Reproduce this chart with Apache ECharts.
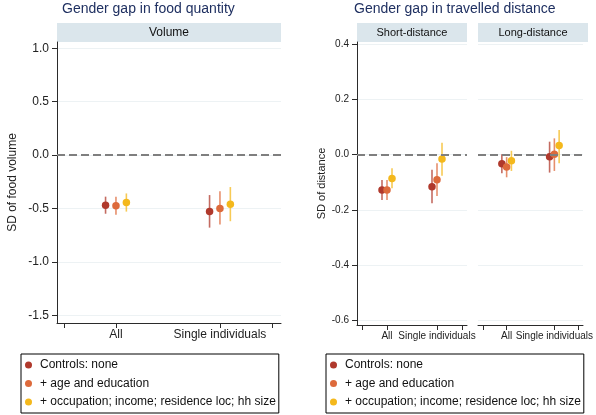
<!DOCTYPE html>
<html>
<head>
<meta charset="utf-8">
<script src="https://cdn.jsdelivr.net/npm/echarts@6/dist/echarts.min.js"></script>
<style>
  html, body { margin: 0; padding: 0; background: #fff; }
  #chart { width: 596px; height: 415px; }
</style>
</head>
<body>
<div id="chart"></div>
<script>
// Sample groups and the three model specifications
const groups = ['All', 'Single individuals'];
const groupPos = [1, 2];
const models = ['Controls: none', '+ age and education', '+ occupation; income; residence loc; hh size'];
const modelColors = ['#b0392c', '#dd6a3b', '#f4b81c'];
const dodge = [-0.1, 0, 0.1];

// Gender gap in food volume (SD): estimate, lower and upper CI, per model x group
const volumeEst = [[-0.47, -0.53], [-0.475, -0.50], [-0.445, -0.46]];
const volumeLo  = [[-0.55, -0.68], [-0.56, -0.65], [-0.53, -0.62]];
const volumeHi  = [[-0.39, -0.375], [-0.39, -0.34], [-0.36, -0.30]];

// Gender gap in short-distance travel (SD)
const shortEst = [[-0.128, -0.116], [-0.128, -0.091], [-0.086, -0.016]];
const shortLo  = [[-0.164, -0.176], [-0.164, -0.150], [-0.122, -0.076]];
const shortHi  = [[-0.092, -0.055], [-0.092, -0.031], [-0.049, 0.043]];

// Gender gap in long-distance travel (SD)
const longEst = [[-0.033, -0.008], [-0.045, 0.001], [-0.022, 0.033]];
const longLo  = [[-0.067, -0.065], [-0.082, -0.059], [-0.059, -0.031]];
const longHi  = [[0.001, 0.047], [-0.009, 0.059], [0.014, 0.089]];

// Axis tick values
const volumeTicks = [-1.5, -1.0, -0.5, 0.0, 0.5, 1.0];
const distanceTicks = [-0.6, -0.4, -0.2, 0.0, 0.2, 0.4];
const xTicks = [0.5, 1, 2, 2.5];

const axisColor = '#2b2b2b';
const gridColor = '#edf2f4';
const fontFamily = 'Liberation Sans, Arial, sans-serif';

function xAxisFor(gridIndex, min, max, fontSize) {
  return {
    type: 'value', gridIndex, min, max,
    axisLine: { show: true, onZero: false, lineStyle: { color: axisColor, width: 1 } },
    axisTick: { show: true, length: 5, customValues: xTicks, lineStyle: { color: axisColor } },
    axisLabel: {
      customValues: groupPos, fontSize, color: '#222', fontFamily, margin: 6,
      formatter: v => groups[groupPos.indexOf(v)] || ''
    },
    splitLine: { show: false }
  };
}

function yAxisFor(gridIndex, min, max, ticks, fontSize, name, nameSize, nameGap, showAxis) {
  return {
    type: 'value', gridIndex, min, max,
    name: showAxis ? name : '', nameLocation: 'middle', nameGap, nameRotate: 90,
    nameTextStyle: { fontSize: nameSize, color: '#222', fontFamily },
    axisLine: { show: showAxis, lineStyle: { color: axisColor, width: 1 } },
    axisTick: { show: showAxis, length: 5, customValues: ticks, lineStyle: { color: axisColor } },
    axisLabel: {
      show: showAxis, customValues: ticks, fontSize, color: '#222', fontFamily, margin: 8,
      formatter: v => v.toFixed(1)
    },
    splitLine: { show: true, lineStyle: { color: gridColor, width: 1 } }
  };
}

function errorBarItem(params, api) {
  const top = api.coord([api.value(0), api.value(2)]);
  const bottom = api.coord([api.value(0), api.value(1)]);
  return {
    type: 'line',
    shape: { x1: top[0], y1: top[1], x2: bottom[0], y2: bottom[1] },
    style: { stroke: api.visual('color'), lineWidth: 1.6, opacity: 0.75 }
  };
}

const zeroLine = {
  silent: true, symbol: 'none', label: { show: false },
  lineStyle: { type: [8, 4], color: '#7f7f7f', width: 2 },
  data: [{ yAxis: 0 }]
};

const series = [];
function addPanel(axisIndex, est, lo, hi) {
  models.forEach((m, k) => {
    const bars = groupPos.map((g, j) => [g + dodge[k], lo[k][j], hi[k][j]]);
    const pts = groupPos.map((g, j) => [g + dodge[k], est[k][j]]);
    const bar = {
      type: 'custom', name: m, xAxisIndex: axisIndex, yAxisIndex: axisIndex,
      renderItem: errorBarItem, data: bars, itemStyle: { color: modelColors[k] },
      encode: { x: 0, y: [1, 2] }, z: 2, silent: true
    };
    if (k === 0) bar.markLine = zeroLine;
    series.push(bar);
    series.push({
      type: 'scatter', name: m, xAxisIndex: axisIndex, yAxisIndex: axisIndex,
      data: pts, symbol: 'circle', symbolSize: 7.5, z: 3,
      itemStyle: { color: modelColors[k], opacity: 1 }
    });
  });
}
addPanel(0, volumeEst, volumeLo, volumeHi);
addPanel(1, shortEst, shortLo, shortHi);
addPanel(2, longEst, longLo, longHi);

function legendAt(left) {
  return {
    left, top: 354, orient: 'vertical', data: models,
    icon: 'circle', itemWidth: 7, itemHeight: 7, itemGap: 4.5,
    borderColor: '#000', borderWidth: 1, padding: [4, 3, 4, 4],
    textStyle: { fontSize: 12, color: '#111', fontFamily, lineHeight: 14, padding: [0, 0, 0, 3] },
    selectedMode: false
  };
}

const stripStyle = { fill: '#dbe6ec' };
function strip(x, w, label, fontSize) {
  return [
    { type: 'rect', shape: { x, y: 23, width: w, height: 19 }, style: stripStyle, silent: true },
    { type: 'text', x: x + w / 2, y: 32.5,
      style: { text: label, fontSize, fill: '#111', fontFamily, align: 'center', verticalAlign: 'middle' } }
  ];
}

const option = {
  animation: false,
  backgroundColor: '#fff',
  title: [
    { text: 'Gender gap in food quantity', left: 62, top: 2, padding: 0,
      textStyle: { fontSize: 14, fontWeight: 'normal', color: '#1f3061', fontFamily } },
    { text: 'Gender gap in travelled distance', left: 354, top: 2, padding: 0,
      textStyle: { fontSize: 14, fontWeight: 'normal', color: '#1f3061', fontFamily } }
  ],
  grid: [
    { left: 57, width: 224, top: 42, height: 281 },
    { left: 357, width: 110, top: 42, height: 283 },
    { left: 478, width: 110, top: 42, height: 283 }
  ],
  xAxis: [
    xAxisFor(0, 0.433, 2.587, 12),
    xAxisFor(1, 0.4, 2.6, 10),
    xAxisFor(2, 0.4, 2.6, 10)
  ],
  yAxis: [
    yAxisFor(0, -1.573, 1.058, volumeTicks, 12, 'SD of food volume', 12, 38, true),
    yAxisFor(1, -0.617, 0.408, distanceTicks, 10, 'SD of distance', 11, 29, true),
    yAxisFor(2, -0.617, 0.408, distanceTicks, 10, '', 11, 29, false)
  ],
  legend: [legendAt(21), legendAt(326)],
  graphic: [].concat(
    strip(57, 224, 'Volume', 12),
    strip(357, 110, 'Short-distance', 11),
    strip(478, 110, 'Long-distance', 11)
  ),
  series
};

echarts.init(document.getElementById('chart'), null, { renderer: 'canvas' }).setOption(option);
</script>
</body>
</html>
